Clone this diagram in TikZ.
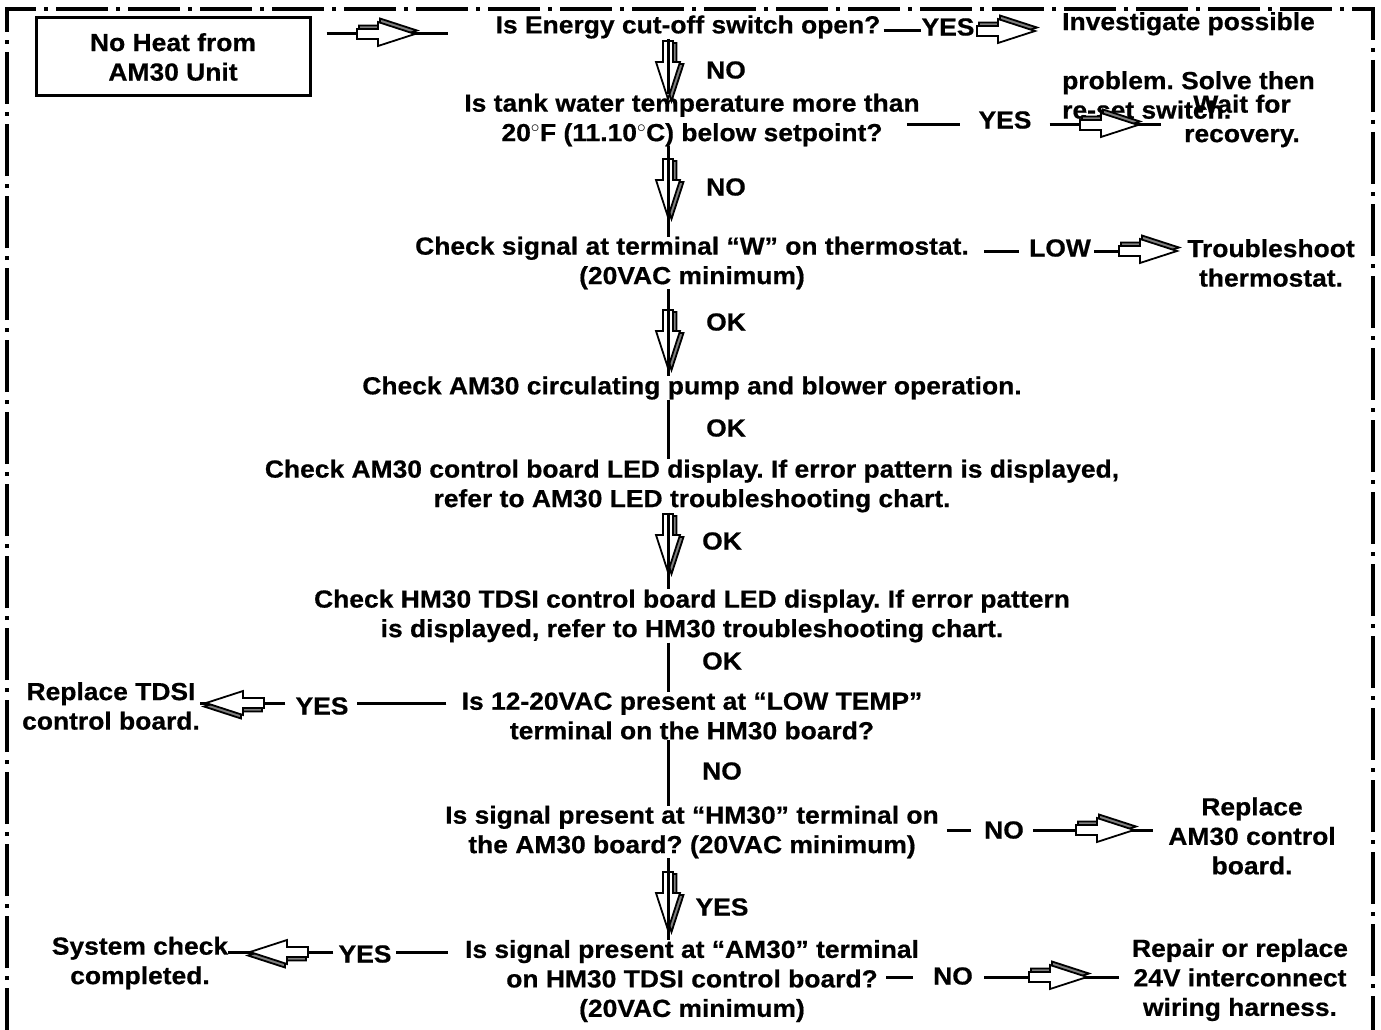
\documentclass[tikz,border=0pt]{standalone}
\usepackage{fontspec}
\usepackage{xcolor}
\usetikzlibrary{positioning}
\newfontfamily\chartfont{Liberation Sans}[FakeStretch=1.07, BoldFeatures={FakeBold=0.6}]
\definecolor{arrowshade}{RGB}{128,128,128}
\newcommand{\chartsize}{\chartfont\bfseries\fontsize{24.7}{29.5}\selectfont\frenchspacing}
\tikzset{
  frame/.style    = {line width=3.5pt, dash pattern=on 52pt off 8pt on 4pt off 8pt},
  startbox/.style = {draw, line width=3pt, minimum width=274pt, minimum height=78pt,
                     inner sep=0pt, align=center, font=\chartsize},
  qtext/.style    = {inner sep=0pt, align=center, font=\chartsize},
  lbl/.style      = {inner sep=0pt, font=\chartsize},
  link/.style     = {line width=3pt},
  fatarrow/.pic   = {
    \foreach \dx/\dy/\col in {2/3.5/arrowshade, 0/0/white}
      \filldraw[fill=\col, draw=black, line width=1.8pt, line join=miter, shift={(\dx,\dy)}]
        (-29,-5) -- (-8,-5) -- (-8,-12) -- (29,0) -- (-8,12)
        -- (-8,5) -- (-29,5) -- cycle;
  }
}

\begin{document}
\begin{tikzpicture}[x=1pt, y=1pt]
  \useasboundingbox (0,0) rectangle (1381,-1030);
  % ---- frame ----
  \draw[frame] (7,-1040) -- (7,-9) -- (1373,-9) -- (1373,-1040);
  % ---- start ----
  \node[startbox] (start) at (173,-57) {No Heat from\\AM30 Unit};
  % ---- checks down the middle ----
  \node[qtext] (qcut)   at (688,-27)  {Is Energy cut-off switch open?};
  \node[qtext] (qtank)  at (692,-120) {Is tank water temperature more than\\
                                       20$^\circ$F (11.10$^\circ$C) below setpoint?};
  \node[qtext] (qtstat) at (692,-263) {Check signal at terminal “W” on thermostat.\\(20VAC minimum)};
  \node[qtext] (qpump)  at (692,-388) {Check AM30 circulating pump and blower operation.};
  \node[qtext] (qamled) at (692,-486) {Check AM30 control board LED display. If error pattern is displayed,\\
                                       refer to AM30 LED troubleshooting chart.};
  \node[qtext] (qhmled) at (692,-616) {Check HM30 TDSI control board LED display. If error pattern\\
                                       is displayed, refer to HM30 troubleshooting chart.};
  \node[qtext] (qlowt)  at (692,-716) {Is 12-20VAC present at “LOW TEMP”\\terminal on the HM30 board?};
  \node[qtext] (qhmsig) at (692,-832) {Is signal present at “HM30” terminal on\\
                                       the AM30 board? (20VAC minimum)};
  \node[qtext] (qamsig) at (692,-981) {Is signal present at “AM30” terminal\\
                                       on HM30 TDSI control board?\\(20VAC minimum)};
  % ---- outcomes ----
  \node[qtext, align=left, anchor=north west] (rinvest) at (1062,-12)
        {Investigate possible\\[29.5pt]problem. Solve then\\re-set switch.};
  \node[qtext] (rwait)    at (1242,-121) {Wait for\\recovery.};
  \node[qtext] (rtstat)   at (1271,-263) {Troubleshoot\\thermostat.};
  \node[qtext] (rtdsi)    at (111,-706)  {Replace TDSI\\control board.};
  \node[qtext] (ram30)    at (1252,-836) {Replace\\AM30 control\\board.};
  \node[qtext] (rharness) at (1240,-980) {Repair or replace\\24V interconnect\\wiring harness.};
  \node[qtext] (rdone)    at (140,-963)  {System check\\completed.};
  % ---- branch labels ----
  \node[lbl] (lyes1) at (948,-27)  {YES};
  \node[lbl] (lyes2) at (1005,-120) {YES};
  \node[lbl] (llow)  at (1060,-248) {LOW};
  \node[lbl] (lyes7) at (322,-706) {YES};
  \node[lbl] (lno8)  at (1004,-830) {NO};
  \node[lbl] (lno9)  at (953,-976) {NO};
  \node[lbl] (lyes9) at (365,-954) {YES};
  \node[lbl] at (726,-70)  {NO};
  \node[lbl] at (726,-187) {NO};
  \node[lbl] at (726,-322) {OK};
  \node[lbl] at (726,-428) {OK};
  \node[lbl] at (722,-541) {OK};
  \node[lbl] at (722,-661) {OK};
  \node[lbl] at (722,-771) {NO};
  \node[lbl] at (722,-907) {YES};
  % ---- arrow spots ----
  \coordinate (spine) at (668,0);
  \coordinate (ar0)  at (386,-34);
  \coordinate (ar1)  at (1006,-31);
  \coordinate (ar2)  at (1109,-125);
  \coordinate (ar3)  at (1148,-251);
  \coordinate (ar7)  at (235,-703);
  \coordinate (ar8)  at (1105,-830);
  \coordinate (ar9r) at (1058,-977);
  \coordinate (ar9l) at (279,-952);
  % ---- side branches ----
  \draw[link, shorten <=15pt, shorten >=47pt] (start.east |- ar0) -- (qcut.west |- ar0);
  \draw[link, shorten <=3pt] (qcut.east |- ar1) -- (lyes1.west |- ar1);
  \draw[link, shorten >=18pt] ([xshift=-13pt]qtank.east |- ar2) -- (lyes2.west |- ar2);
  \draw[link, shorten <=18pt, shorten >=23pt] (lyes2.east |- ar2) -- (rwait.west |- ar2);
  \draw[link, shorten <=15pt, shorten >=10pt] (qtstat.east |- ar3) -- (llow.west |- ar3);
  \draw[link, shorten <=3pt] (llow.east |- ar3) -- (ar3);
  \draw[link, shorten <=15pt, shorten >=8pt] (qlowt.west |- ar7) -- (lyes7.east |- ar7);
  \draw[link, shorten <=10pt] (lyes7.west |- ar7) -- (rtdsi.east |- ar7);
  \draw[link, shorten <=8pt, shorten >=13pt] (qhmsig.east |- ar8) -- (lno8.west |- ar8);
  \draw[link, shorten <=9pt, shorten >=15pt] (lno8.east |- ar8) -- (ram30.west |- ar8);
  \draw[link, shorten >=20pt] ([xshift=-33pt]qamsig.east |- ar9r) -- (lno9.west |- ar9r);
  \draw[link, shorten <=11pt, shorten >=13pt] (lno9.east |- ar9r) -- (rharness.west |- ar9r);
  \draw[link, shorten <=17pt, shorten >=4pt] (qamsig.west |- ar9l) -- (lyes9.east |- ar9l);
  \draw[link, shorten <=5pt] (lyes9.west |- ar9l) -- (rdone.east |- ar9l);
  % ---- block arrows ----
  \foreach \c in {ar0,ar1,ar2,ar3,ar8,ar9r}
    \pic at (\c) {fatarrow};
  \foreach \c in {ar7,ar9l}
    \pic[rotate=180] at (\c) {fatarrow};
  \foreach \y in {70,188,339,543,901}
    \pic[rotate=-90] at (668,-\y) {fatarrow};
  % ---- main spine ----
  \draw[link] (qcut.south -| spine)   -- (qtank.north -| spine);
  \draw[link] (qtank.south -| spine)  -- (qtstat.north -| spine);
  \draw[link] (qtstat.south -| spine) -- (qpump.north -| spine);
  \draw[link] (qpump.south -| spine)  -- (qamled.north -| spine);
  \draw[link] (qamled.south -| spine) -- (qhmled.north -| spine);
  \draw[link] (qhmled.south -| spine) -- (qlowt.north -| spine);
  \draw[link] (qlowt.south -| spine)  -- (qhmsig.north -| spine);
  \draw[link] (qhmsig.south -| spine) -- (qamsig.north -| spine);
\end{tikzpicture}
\end{document}
